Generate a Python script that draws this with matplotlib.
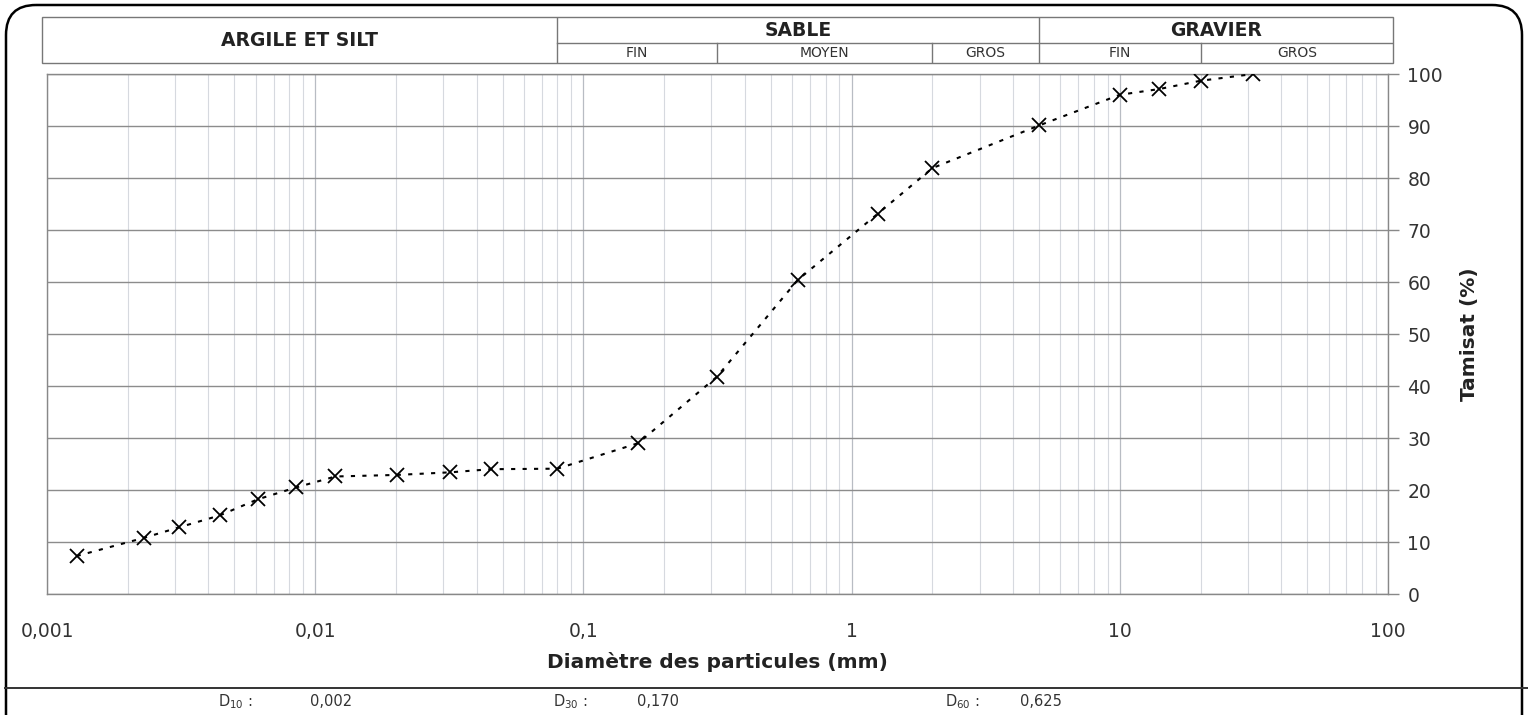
import matplotlib.pyplot as plt
from matplotlib.patches import FancyBboxPatch, Rectangle
from matplotlib.ticker import LogLocator, NullFormatter

W, H = 1528, 715

# courbe granulometrique
diam = [0.00129, 0.0023, 0.0031, 0.0044, 0.0061, 0.0085, 0.0119, 0.0202,
        0.0319, 0.0451, 0.08, 0.16, 0.315, 0.63, 1.25, 2, 5, 10, 14, 20, 31.5]
passing = [7.3, 10.8, 12.8, 15.1, 18.2, 20.5, 22.6, 22.9, 23.4, 24.0, 24.1,
           29.0, 41.8, 60.4, 73.1, 81.9, 90.1, 96.0, 97.1, 98.7, 100.0]

yticks = list(range(0, 101, 10))
xticks = [0.001, 0.01, 0.1, 1, 10, 100]
xtick_labels = ['0,001', '0,01', '0,1', '1', '10', '100']

# bandeau des classes
main_names = ['ARGILE ET SILT', 'SABLE', 'GRAVIER']
main_bounds = [0.08, 5]
sub_names = ['FIN', 'MOYEN', 'GROS', 'FIN', 'GROS']
sub_bounds = [0.08, 0.315, 2, 5, 20]

d_names = ['D$_{10}$ :', 'D$_{30}$ :', 'D$_{60}$ :']
d_values = ['0,002', '0,170', '0,625']


def add_px_axes(fig, l, t, r, b):
    return fig.add_axes([l / W, 1 - b / H, (r - l) / W, (b - t) / H])


fig = plt.figure(figsize=(W / 100, H / 100), dpi=100)

# fond : cadre arrondi et ligne du bas
ax_bg = fig.add_axes([0, 0, 1, 1])
ax_bg.set_xlim(0, W)
ax_bg.set_ylim(H, 0)
ax_bg.axis('off')
ax_bg.add_patch(FancyBboxPatch((6, 5), 1516, 740,
                               boxstyle='round,pad=0,rounding_size=30',
                               fill=False, lw=1.8, ec='black'))
ax_bg.plot([5, W], [688, 688], color='#333333', lw=1.4)
d_x = [(218, 310), (553, 637), (945, 1020)]
for (xn, xv), n, v in zip(d_x, d_names, d_values):
    ax_bg.text(xn, 702, n, fontsize=10.5, color='#333333', va='center')
    ax_bg.text(xv, 702, v, fontsize=10.5, color='#333333', va='center')

# graphique principal
ax = add_px_axes(fig, 47, 74, 1388, 594)
ax.set_xscale('log')
ax.set_xlim(1e-3, 100)
ax.set_ylim(0, 100)
ax.plot(diam, passing, ls=(0, (2.0, 3.5)), color='black', lw=1.5,
        marker='x', ms=9.5, mew=1.3, zorder=3)

ax.yaxis.tick_right()
ax.yaxis.set_label_position('right')
ax.set_yticks(yticks)
ax.tick_params(axis='y', length=8, width=1, color='#888888', pad=6,
               labelsize=13.5, labelcolor='#333333')
ax.set_xticks(xticks, xtick_labels)
ax.xaxis.set_minor_locator(LogLocator(base=10, subs=range(2, 10)))
ax.xaxis.set_minor_formatter(NullFormatter())
ax.tick_params(axis='x', which='both', length=0, pad=20,
               labelsize=13.5, labelcolor='#333333')

ax.grid(which='minor', axis='x', color='#d6d9df', lw=0.8)
ax.grid(which='major', axis='x', color='#b8bcc3', lw=0.9)
ax.grid(which='major', axis='y', color='#8c8c8c', lw=1.0)
for s in ax.spines.values():
    s.set_color('#888888')
    s.set_linewidth(1)

ax.set_xlabel('Diamètre des particules (mm)', fontsize=14.5,
              fontweight='bold', color='#222222', labelpad=8)
ax.set_ylabel('Tamisat (%)', fontsize=14.5, fontweight='bold',
              color='#222222', labelpad=12)

# bandeau ARGILE / SABLE / GRAVIER
px_dec = (1388 - 47) / 5
ax_h = add_px_axes(fig, 42, 17, 1393, 63)
ax_h.set_xscale('log')
xmin_h = 10 ** (-3 - 5 / px_dec)
xmax_h = 10 ** (2 + 5 / px_dec)
ax_h.set_xlim(xmin_h, xmax_h)
ax_h.set_ylim(0, 1)
ax_h.axis('off')
mid = 20 / 46
lc = '#777777'
ax_h.add_patch(Rectangle((xmin_h, 0), xmax_h - xmin_h, 1, fill=False,
                         ec=lc, lw=1, clip_on=False))
for b in main_bounds:
    ax_h.plot([b, b], [0, 1], color=lc, lw=1)
ax_h.plot([main_bounds[0], xmax_h], [mid, mid], color=lc, lw=1)
for b in sub_bounds[1:]:
    if b not in main_bounds:
        ax_h.plot([b, b], [0, mid], color=lc, lw=1)

edges = [xmin_h] + main_bounds + [xmax_h]
for i, name in enumerate(main_names):
    xc = (edges[i] * edges[i + 1]) ** 0.5
    yc = 0.5 if i == 0 else (1 + mid) / 2
    ax_h.text(xc, yc, name, ha='center', va='center', fontsize=13.5,
              fontweight='bold', color='#222222')
sub_edges = sub_bounds + [xmax_h]
for i, name in enumerate(sub_names):
    xc = (sub_edges[i] * sub_edges[i + 1]) ** 0.5
    ax_h.text(xc, mid / 2, name, ha='center', va='center', fontsize=10,
              color='#333333')

fig.savefig('out.png', dpi=100)
